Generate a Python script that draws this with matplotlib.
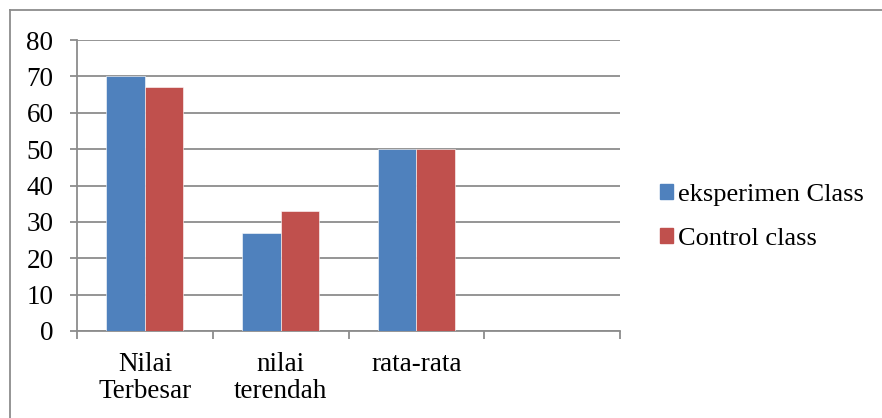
import matplotlib.pyplot as plt
import numpy as np
from matplotlib.lines import Line2D
from matplotlib.patches import Rectangle

categories = ["Nilai\nTerbesar", "nilai\nterendah", "rata-rata", ""]
eksperimen = [70, 27, 50, np.nan]
control = [67, 33, 50, np.nan]
series_labels = ["eksperimen Class", "Control class"]
y_ticks = [0, 10, 20, 30, 40, 50, 60, 70, 80]

BLUE = "#4f81bd"
RED = "#c0504d"
GREY = "#8c8c8c"

plt.rcParams["font.family"] = ["Liberation Serif", "DejaVu Serif"]

fig = plt.figure(figsize=(8.82, 4.18), dpi=100)
ax = fig.add_axes([77 / 882, 1 - 331 / 418, 543 / 882, 291 / 418])

x = np.arange(len(categories))
bar_w = 0.2835
ax.bar(x - bar_w / 2, eksperimen, bar_w, color=BLUE, edgecolor="white", linewidth=0.4,
       label=series_labels[0], zorder=3)
ax.bar(x + bar_w / 2, control, bar_w, color=RED, edgecolor="white", linewidth=0.4,
       label=series_labels[1], zorder=3)

ax.set_xlim(-0.5, len(categories) - 0.5)
ax.set_ylim(0, 80)
ax.set_yticks(y_ticks)
ax.yaxis.grid(True, color=GREY, linewidth=1.3, zorder=0)

for side in ["top", "right"]:
    ax.spines[side].set_visible(False)
for side in ["left", "bottom"]:
    ax.spines[side].set_color(GREY)
    ax.spines[side].set_linewidth(1.3)

ax.tick_params(axis="y", length=5, width=1.3, color=GREY, pad=12, labelsize=19.5)
ax.set_xticks(x)
ax.set_xticklabels(categories, fontsize=19.5, linespacing=1.1)
ax.tick_params(axis="x", which="major", length=0, pad=15)
ax.set_xticks(np.arange(len(categories) + 1) - 0.5, minor=True)
ax.tick_params(axis="x", which="minor", length=6, width=1.3, color=GREY)

handles = [Rectangle((0, 0), 1, 1, color=BLUE), Rectangle((0, 0), 1, 1, color=RED)]
fig.legend(handles, series_labels, loc="center left", bbox_to_anchor=(636 / 882, 1 - 217 / 418),
           frameon=False, fontsize=19, handlelength=0.5, handleheight=0.5,
           handletextpad=0.2, labelspacing=0.83)

# chart area border: left and top edges
fig.add_artist(Line2D([10 / 882, 10 / 882], [0, 1 - 10 / 418], transform=fig.transFigure,
                      color=GREY, linewidth=1.3))
fig.add_artist(Line2D([10 / 882, 1], [1 - 10 / 418, 1 - 10 / 418], transform=fig.transFigure,
                      color=GREY, linewidth=1.3))

fig.savefig("out.png", dpi=100)
